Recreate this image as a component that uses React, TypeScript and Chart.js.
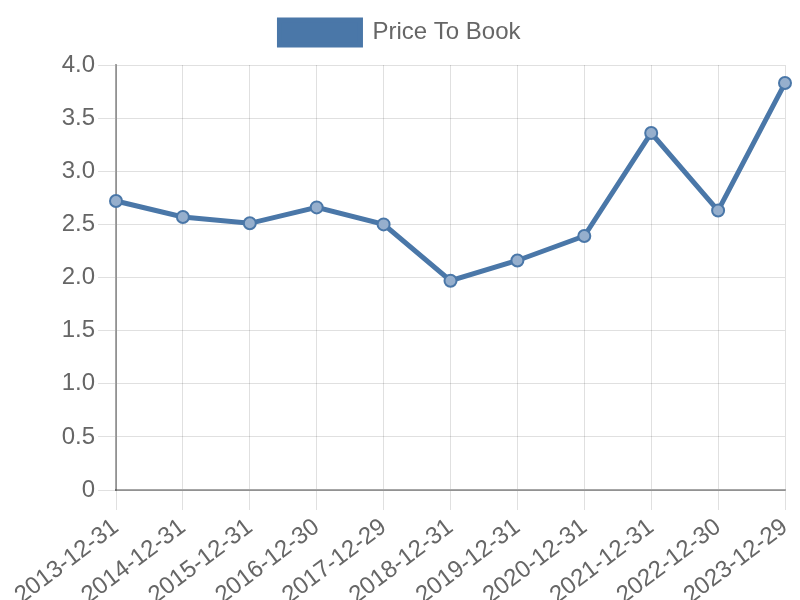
import React, { useEffect, useRef } from "react";
import { Chart, registerables } from "chart.js";

Chart.register(...registerables);

const categories = [
  "2013-12-31", "2014-12-31", "2015-12-31", "2016-12-30", "2017-12-29",
  "2018-12-31", "2019-12-31", "2020-12-31", "2021-12-31", "2022-12-30", "2023-12-29",
];
const priceToBook = [2.72, 2.57, 2.51, 2.66, 2.5, 1.97, 2.16, 2.39, 3.36, 2.63, 3.83];
const seriesLabel = "Price To Book";

const FONT = "'Liberation Sans', Arial, sans-serif";

const legendMargin = {
  id: "legendMargin",
  beforeInit(chart: any) {
    const legend = chart.legend;
    if (!legend) return;
    const orig = legend.fit;
    legend.fit = function () {
      orig.call(this);
      this.height += 10;
    };
  },
};

export default function App() {
  const ref = useRef<HTMLCanvasElement>(null);
  useEffect(() => {
    document.body.style.margin = "0";
    const ctx = ref.current!;
    const chart = new Chart(ctx, {
      type: "line",
      data: {
        labels: categories,
        datasets: [
          {
            label: seriesLabel,
            data: priceToBook,
            borderColor: "#4a77a8",
            backgroundColor: "#4a77a8",
            borderWidth: 5,
            pointRadius: 6,
            pointBorderWidth: 2,
            pointBackgroundColor: "rgba(150,175,205,1)",
            pointBorderColor: "#4a77a8",
            tension: 0,
          },
        ],
      },
      plugins: [legendMargin],
      options: {
        responsive: false,
        animation: false,
        layout: { padding: { right: 0, left: 0, top: 10, bottom: 0 } },
        plugins: {
          legend: {
            labels: {
              boxWidth: 81,
              boxHeight: 25,
              color: "#666",
              font: { size: 24, family: FONT },
            },
          },
          tooltip: { enabled: false },
        },
        scales: {
          x: {
            grid: { color: "rgba(0,0,0,0.12)", tickLength: 20 },
            border: { color: "rgba(0,0,0,0.35)", width: 2 },
            ticks: {
              color: "#666",
              minRotation: 37,
              maxRotation: 37,
              font: { size: 24, family: FONT },
            },
            afterFit: (s: any) => {
              s.height = 110;
              s.paddingRight = 15;
              s.paddingLeft = 0;
            },
          },
          y: {
            min: 0,
            max: 4,
            grid: { color: "rgba(0,0,0,0.12)", tickLength: 18 },
            border: { color: "rgba(0,0,0,0.35)", width: 2 },
            ticks: {
              stepSize: 0.5,
              color: "#666",
              font: { size: 24, family: FONT },
            },
            afterFit: (s: any) => {
              s.width = 116;
              s.paddingTop = 0;
              s.paddingBottom = 0;
            },
          },
        },
      },
    });
    return () => chart.destroy();
  }, []);
  return (
    <div style={{ position: "absolute", left: 0, top: 0 }}>
      <canvas ref={ref} width={800} height={600} />
    </div>
  );
}
